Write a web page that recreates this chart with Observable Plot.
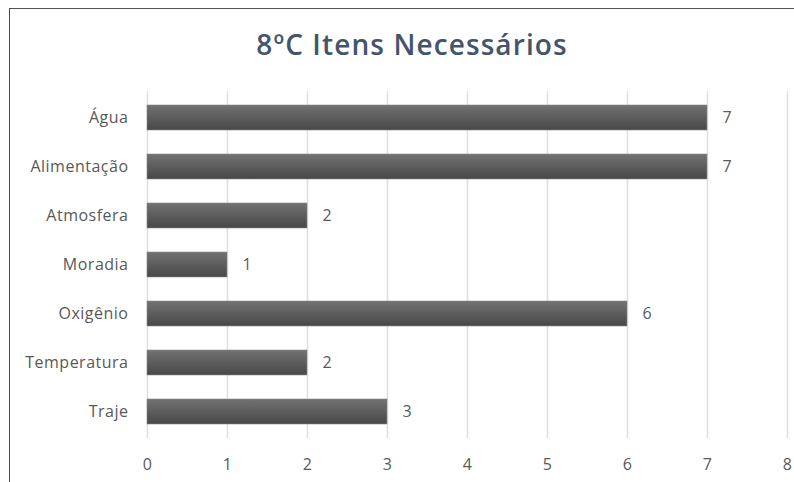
<!DOCTYPE html>
<html><head><meta charset="utf-8">
<script src="https://cdn.jsdelivr.net/npm/d3@7"></script>
<script src="https://cdn.jsdelivr.net/npm/@observablehq/plot@0.6"></script>
<style>
html,body{margin:0;padding:0;background:#fff;overflow:hidden}
#wrap{position:relative;width:794px;height:482px;overflow:hidden;background:#fff}
#frame{position:absolute;left:9px;top:8px;width:900px;height:600px;border:1px solid #505050;box-sizing:border-box}
#title{position:absolute;left:0;top:25px;width:824px;text-align:center;font-family:"Open Sans",sans-serif;font-weight:600;font-size:28px;letter-spacing:1.1px;color:#44546A;margin:0}
#chart{position:absolute;left:0;top:0}
#chart text{letter-spacing:0.5px}
</style></head>
<body><div id="wrap"><div id="frame"></div><div id="title">8ºC Itens Necessários</div><div id="chart"></div></div>
<script>
const categories = ["Água","Alimentação","Atmosfera","Moradia","Oxigênio","Temperatura","Traje"];
const values = [7,7,2,1,6,2,3];
const xTicks = [0,1,2,3,4,5,6,7,8];

const data = categories.map((c,i)=>({cat:c, v:values[i]}));

const plot = Plot.plot({
  width: 794, height: 482,
  marginLeft: 147, marginRight: 7, marginTop: 91, marginBottom: 44,
  style: {fontFamily: "'Open Sans', sans-serif", fontSize: "16px", color: "#595959", background: "transparent", overflow: "visible"},
  x: {domain: [0,8], ticks: xTicks, tickSize: 0, tickPadding: 20, label: null, tickFormat: d=>String(d)},
  y: {domain: categories, paddingInner: 0.5, paddingOuter: 0.25, tickSize: 0, tickPadding: 19, label: null},
  marks: [
    Plot.ruleX(xTicks, {stroke: "#d9e0e8", strokeWidth: 1.5}),
    Plot.barX(data, {y: "cat", x: "v", fill: "url(#barGrad)", stroke: "#8a8a8a", strokeWidth: 0.6}),
    Plot.text(data, {y: "cat", x: "v", text: d=>String(d.v), textAnchor: "start", dx: 15, fill: "#595959", fontSize: 16}),
    Plot.axisX({ticks: xTicks, tickSize: 0, tickPadding: 20, tickFormat: d=>String(d), label: null, fill: "#595959"}),
    Plot.axisY({tickSize: 0, tickPadding: 19, label: null, fill: "#595959"})
  ]
});
const svg = d3.select(plot);
const defs = svg.insert("defs", ":first-child");
const g = defs.append("linearGradient").attr("id","barGrad").attr("x1","0").attr("y1","0").attr("x2","0").attr("y2","1");
g.append("stop").attr("offset","0%").attr("stop-color","#727272");
g.append("stop").attr("offset","100%").attr("stop-color","#484848");
document.getElementById("chart").appendChild(plot);
</script></body></html>
